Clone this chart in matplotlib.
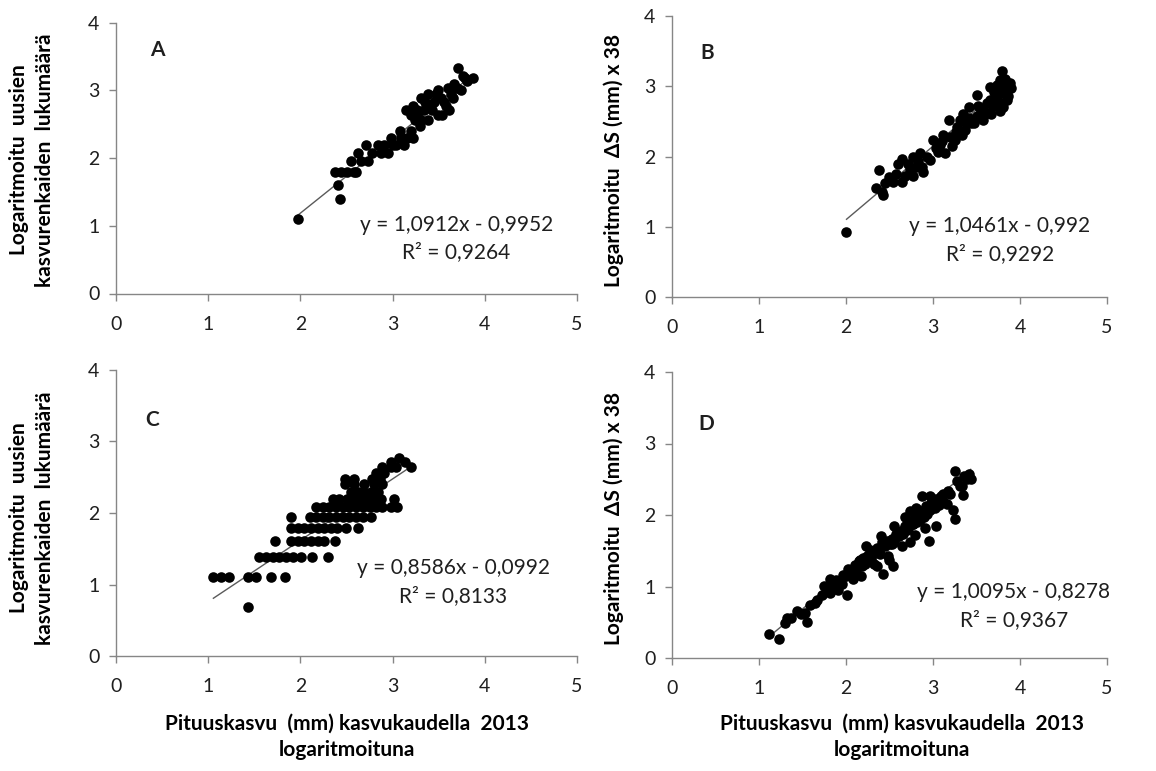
import matplotlib
matplotlib.use("Agg")
import matplotlib.pyplot as plt

# ---------------------------------------------------------------- data
# Panel A: log shoot growth vs log number of new growth rings
a_x = [1.97, 2.43, 2.41, 2.37, 2.44, 2.51, 2.60, 2.55, 2.58, 2.66, 2.62, 2.73,
       2.71, 2.78, 2.87, 2.91, 2.98, 3.04, 2.95, 3.09, 3.12, 3.16, 3.22, 3.20,
       3.15, 3.22, 3.27, 3.31, 3.34, 3.40, 3.38, 3.45, 3.49, 3.52, 3.56, 3.60,
       3.63, 3.67, 3.71, 3.76, 3.81, 3.87, 3.61, 3.54, 3.49, 3.38, 3.31, 3.24,
       3.20, 3.30, 3.43, 3.66, 3.70, 3.74, 3.78, 3.58, 3.47, 3.26, 3.35, 2.84,
       3.00, 3.08]
a_y = [1.10, 1.39, 1.61, 1.79, 1.79, 1.79, 1.79, 1.95, 1.79, 1.95, 2.08, 1.95,
       2.20, 2.08, 2.08, 2.20, 2.30, 2.20, 2.08, 2.30, 2.20, 2.30, 2.30, 2.40,
       2.71, 2.77, 2.64, 2.56, 2.71, 2.77, 2.94, 2.83, 3.00, 2.89, 2.83, 3.04,
       2.94, 3.09, 3.33, 3.22, 3.14, 3.18, 2.71, 2.64, 2.64, 2.56, 2.89, 2.56,
       2.64, 2.48, 2.71, 2.89, 3.04, 3.00, 3.18, 2.77, 2.94, 2.71, 2.83, 2.20,
       2.20, 2.40]

# Panel B: log shoot growth vs log ΔS x 38
b_x = [2.00, 2.43, 2.41, 2.38, 2.49, 2.54, 2.60, 2.64, 2.64, 2.74, 2.77, 2.85,
       2.89, 2.87, 3.00, 3.06, 3.08, 3.12, 3.18, 3.25, 3.27, 3.31, 3.35, 3.37,
       3.41, 3.44, 3.50, 3.50, 3.54, 3.62, 3.66, 3.67, 3.71, 3.73, 3.77, 3.79,
       3.83, 3.85, 3.90, 3.81,
       2.45, 2.57, 2.68, 2.71, 2.80, 2.83, 2.93, 2.96, 3.04, 3.10, 3.14, 3.20,
       3.22, 3.28, 3.33, 3.38, 3.41, 3.47, 3.52, 3.57, 3.58, 3.63, 3.65, 3.69,
       3.70, 3.76, 3.79, 3.82, 3.86, 3.88, 3.77, 2.34, 2.77]
b_y = [0.93, 1.45, 1.50, 1.81, 1.71, 1.64, 1.90, 1.97, 1.64, 1.81, 2.00, 2.05,
       1.78, 1.85, 2.23, 2.07, 2.16, 2.31, 2.52, 2.23, 2.35, 2.52, 2.61, 2.38,
       2.71, 2.47, 2.88, 2.57, 2.61, 2.76, 2.99, 2.61, 2.85, 3.02, 3.09, 3.21,
       3.11, 2.80, 2.97, 2.71,
       1.62, 1.75, 1.72, 1.90, 1.85, 1.93, 2.00, 1.95, 2.12, 2.22, 2.05, 2.28,
       2.15, 2.42, 2.30, 2.48, 2.55, 2.47, 2.72, 2.68, 2.52, 2.62, 2.80, 2.72,
       2.92, 2.78, 2.90, 2.98, 2.86, 3.05, 2.65, 1.55, 1.72]

# Panel C: log shoot growth vs log number of new growth rings
c_x = [1.43,
       1.05, 1.14, 1.23, 1.43, 1.52, 1.68, 1.83,
       1.55, 1.63, 1.70, 1.77, 1.84, 1.92, 2.01, 2.13, 2.30,
       1.72, 1.90, 1.97, 2.04, 2.11, 2.19, 2.26, 2.37,
       1.90, 1.97, 2.04, 2.11, 2.19, 2.26, 2.33, 2.40, 2.49, 2.62,
       1.90, 2.10, 2.17, 2.24, 2.31, 2.39, 2.46, 2.53, 2.60, 2.68, 2.77,
       2.17, 2.24, 2.31, 2.39, 2.46, 2.53, 2.60, 2.68, 2.75, 2.82, 2.89, 2.98, 3.05,
       2.35, 2.42, 2.51, 2.58, 2.66, 2.73, 2.80, 2.87, 3.02,
       2.55, 2.62, 2.69, 2.77, 2.84,
       2.48, 2.58, 2.69, 2.80, 2.89,
       2.48, 2.58, 2.78, 2.86,
       2.82, 2.91,
       2.89, 2.98, 3.04, 3.20,
       2.98, 3.13,
       3.07]
c_y = [0.69,
       1.10, 1.10, 1.10, 1.10, 1.10, 1.10, 1.10,
       1.39, 1.39, 1.39, 1.39, 1.39, 1.39, 1.39, 1.39, 1.39,
       1.61, 1.61, 1.61, 1.61, 1.61, 1.61, 1.61, 1.61,
       1.79, 1.79, 1.79, 1.79, 1.79, 1.79, 1.79, 1.79, 1.79, 1.79,
       1.95, 1.95, 1.95, 1.95, 1.95, 1.95, 1.95, 1.95, 1.95, 1.95, 1.95,
       2.08, 2.08, 2.08, 2.08, 2.08, 2.08, 2.08, 2.08, 2.08, 2.08, 2.08, 2.08, 2.08,
       2.20, 2.20, 2.20, 2.20, 2.20, 2.20, 2.20, 2.20, 2.20,
       2.30, 2.30, 2.30, 2.30, 2.30,
       2.40, 2.40, 2.40, 2.40, 2.40,
       2.48, 2.48, 2.48, 2.48,
       2.56, 2.56,
       2.64, 2.64, 2.64, 2.64,
       2.71, 2.71,
       2.77]

# Panel D: log shoot growth vs log ΔS x 38
d_x = [1.11, 1.23, 1.32, 1.30, 1.53, 1.55, 1.64, 1.82, 1.82, 1.88, 2.01, 1.91,
       2.05, 2.16, 2.24, 2.28, 2.39, 2.43, 2.36, 2.49, 2.54, 2.53, 2.60, 2.70,
       2.74, 2.77, 2.85, 2.87, 2.95, 2.93, 2.99, 3.04, 3.12, 3.16, 3.23, 3.25,
       3.25, 3.33, 3.35, 3.44,
       1.37, 1.44, 1.48, 1.59, 1.67, 1.72, 1.75, 1.78, 1.84, 1.89, 1.93, 1.96,
       2.00, 2.02, 2.07, 2.10, 2.12, 2.15, 2.18, 2.20, 2.22, 2.25, 2.29, 2.31,
       2.33, 2.36, 2.38, 2.41, 2.45, 2.47, 2.50, 2.53, 2.55, 2.57, 2.61, 2.63,
       2.66, 2.68, 2.71, 2.74, 2.77, 2.79, 2.82, 2.83, 2.88, 2.90, 2.92, 2.96,
       2.98, 3.02, 3.04, 3.07, 3.09, 3.11, 3.17, 3.20, 3.28, 3.31, 3.36, 3.39,
       3.41, 2.64, 2.48, 2.32, 2.17, 2.08, 2.79, 2.91, 2.73, 2.23, 2.40, 2.55,
       2.68, 2.81, 2.96, 1.82, 1.95]
d_y = [0.33, 0.26, 0.56, 0.49, 0.63, 0.51, 0.77, 1.11, 0.93, 1.09, 0.88, 0.95,
       1.23, 1.37, 1.42, 1.51, 1.46, 1.18, 1.28, 1.37, 1.28, 1.60, 1.70, 1.79,
       2.05, 1.88, 1.93, 2.26, 1.63, 2.02, 2.16, 1.84, 2.30, 2.16, 2.07, 1.95,
       2.61, 2.40, 2.28, 2.51,
       0.56, 0.66, 0.61, 0.74, 0.81, 0.88, 1.01, 0.96, 1.06, 1.01, 1.08, 1.16,
       1.15, 1.25, 1.22, 1.30, 1.20, 1.35, 1.28, 1.40, 1.32, 1.42, 1.38, 1.50,
       1.47, 1.54, 1.50, 1.62, 1.57, 1.64, 1.60, 1.67, 1.62, 1.74, 1.70, 1.77,
       1.74, 1.84, 1.80, 1.92, 1.87, 1.97, 1.90, 2.07, 2.02, 1.97, 2.12, 2.07,
       2.17, 2.10, 2.22, 2.14, 2.27, 2.20, 2.34, 2.30, 2.47, 2.40, 2.54, 2.50,
       2.58, 1.57, 1.42, 1.32, 1.15, 1.10, 1.72, 1.82, 1.62, 1.57, 1.70, 1.84,
       1.97, 2.10, 2.27, 0.91, 1.04]

# Linear trend lines (slope, intercept, R²)
a_fit = (1.0912, -0.9952, 0.9264)
b_fit = (1.0461, -0.992, 0.9292)
c_fit = (0.8586, -0.0992, 0.8133)
d_fit = (1.0095, -0.8278, 0.9367)

panel_letters = ["A", "B", "C", "D"]
x_ticks = [0, 1, 2, 3, 4, 5]
y_ticks = [0, 1, 2, 3, 4]

ylabel_rings = "Logaritmoitu  uusien\nkasvurenkaiden  lukumäärä"
ylabel_ds = "Logaritmoitu  ΔS (mm) x 38"
xlabel = "Pituuskasvu  (mm) kasvukaudella  2013\nlogaritmoituna"

# ---------------------------------------------------------------- style
plt.rcParams['font.family'] = ['Lato', 'DejaVu Sans']

W, H = 1156, 771
fig = plt.figure(figsize=(W / 100, H / 100), dpi=100)
fig.patch.set_facecolor("white")

AXIS_GREY = "#868686"
TEXT = "#1f1f1f"


def px_axes(left, top, right, bottom):
    return fig.add_axes([left / W, 1 - bottom / H, (right - left) / W, (bottom - top) / H])


def fmt(v):
    s = f"{abs(v):.4f}".rstrip("0").rstrip(".")
    return s.replace(".", ",")


def panel(ax, xs, ys, fit, letter, letter_xy, eq_xy, r2_xy):
    slope, icpt, r2 = fit
    x0, x1 = min(xs), max(xs)
    ax.plot([x0, x1], [slope * x0 + icpt, slope * x1 + icpt],
            color="#5a5a5a", lw=1.0, zorder=2, solid_capstyle="butt")
    ax.scatter(xs, ys, s=58, color="black", linewidths=0, zorder=3)
    ax.set_xlim(0, 5)
    ax.set_ylim(0, 4)
    ax.set_xticks(x_ticks)
    ax.set_yticks(y_ticks)
    for side in ("top", "right"):
        ax.spines[side].set_visible(False)
    for side in ("left", "bottom"):
        ax.spines[side].set_color(AXIS_GREY)
        ax.spines[side].set_linewidth(1.0)
    ax.tick_params(axis="both", direction="out", length=5, width=1.0,
                   color=AXIS_GREY, labelcolor=TEXT, labelsize=14)
    ax.tick_params(axis="x", pad=11)
    ax.tick_params(axis="y", pad=7)
    ax.patch.set_alpha(0)
    sign = "-" if icpt < 0 else "+"
    ax.text(*letter_xy, letter, fontsize=15, fontweight="bold", color=TEXT,
            ha="center", va="center")
    ax.text(*eq_xy, f"y = {fmt(slope)}x {sign} {fmt(icpt)}", fontsize=15,
            color=TEXT, ha="center", va="center")
    ax.text(*r2_xy, f"R² = {fmt(r2)}", fontsize=15, color=TEXT,
            ha="center", va="center")


ax_a = px_axes(116, 22.7, 577, 293.5)
ax_b = px_axes(672, 16, 1107, 297)
ax_c = px_axes(116, 370, 577, 656)
ax_d = px_axes(672, 372, 1107, 658)

panel(ax_a, a_x, a_y, a_fit, panel_letters[0], (0.45, 3.60), (3.69, 1.01), (3.69, 0.61))
panel(ax_b, b_x, b_y, b_fit, panel_letters[1], (0.40, 3.47), (3.77, 1.01), (3.77, 0.61))
panel(ax_c, c_x, c_y, c_fit, panel_letters[2], (0.39, 3.30), (3.66, 1.23), (3.66, 0.84))
panel(ax_d, d_x, d_y, d_fit, panel_letters[3], (0.39, 3.27), (3.93, 0.92), (3.93, 0.53))

lab = dict(fontsize=15, fontweight="bold", color="black", rotation=90,
           ha="center", va="center", multialignment="center", linespacing=1.35)
fig.text(32 / W, 1 - 160 / H, ylabel_rings, **lab)
fig.text(32 / W, 1 - 518 / H, ylabel_rings, **lab)
fig.text(614 / W, 1 - 160 / H, ylabel_ds, **lab)
fig.text(614 / W, 1 - 518 / H, ylabel_ds, **lab)

xl = dict(fontsize=15, fontweight="bold", color="black", ha="center",
          va="center", multialignment="center", linespacing=1.4)
fig.text(347 / W, 1 - 737 / H, xlabel, **xl)
fig.text(902 / W, 1 - 737 / H, xlabel, **xl)

fig.savefig("out.png", dpi=100, facecolor="white")
